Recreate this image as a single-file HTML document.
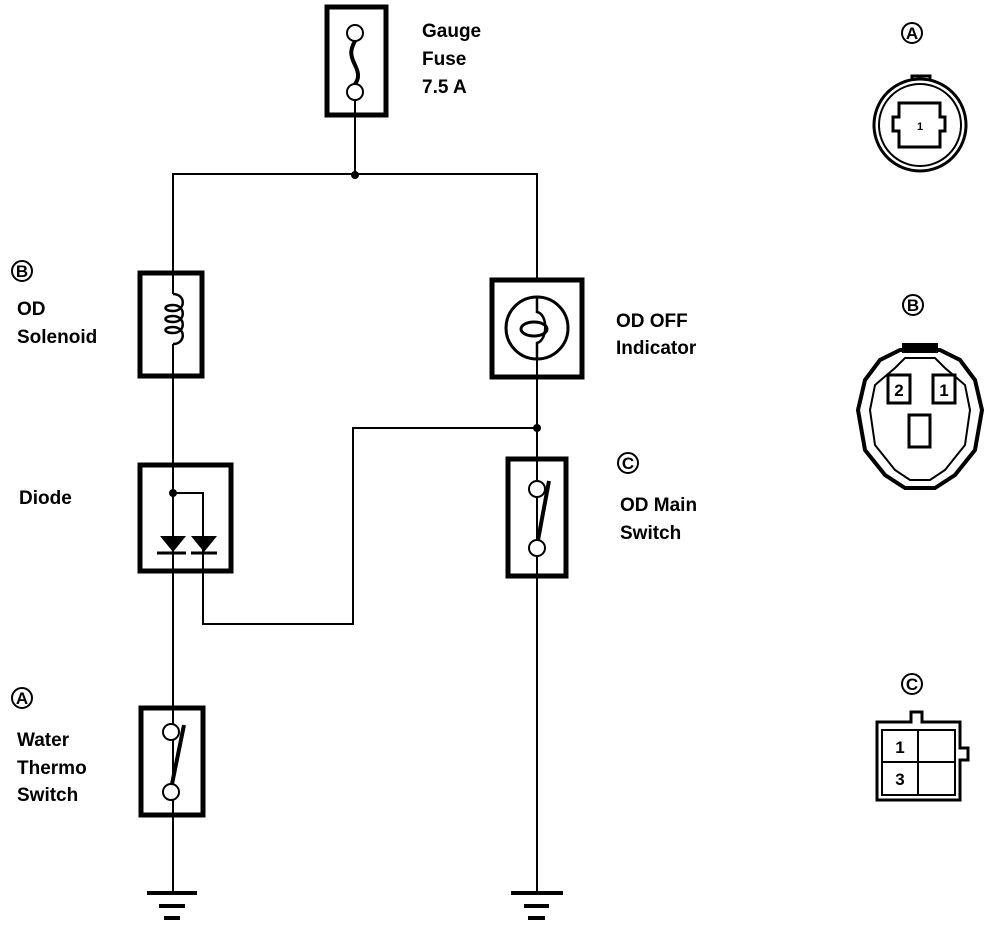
<!DOCTYPE html>
<html><head><meta charset="utf-8"><style>
html,body{margin:0;padding:0;background:#fff;}
svg{display:block;}
text{font-family:"Liberation Sans",sans-serif;font-size:19px;font-weight:bold;fill:#000;}
.c{font-size:17px;font-weight:bold;}
</style></head><body>
<svg width="992" height="928" viewBox="0 0 992 928" xmlns="http://www.w3.org/2000/svg">
<g fill="none" stroke="#000" stroke-width="2">
<rect x="327" y="7" width="59" height="108" stroke-width="5"/>
<circle cx="355" cy="33" r="8"/>
<circle cx="355" cy="92" r="8"/>
<path d="M355 41 C350 50,350 55,355 65 C360 75,358 80,355 84" stroke-width="4"/>
<line x1="355" y1="100" x2="355" y2="175"/>
<polyline points="173,272 173,174 537,174 537,278"/>
<circle cx="355" cy="175" r="3" fill="#000"/>
<rect x="140" y="273" width="62" height="103" stroke-width="5"/>
<line x1="173" y1="272" x2="173" y2="294"/>
<path d="M173 294 C186 294,186 311,173 311 C163 311,163 305,173 305 M173 305 C186 305,186 322,173 322 C163 322,163 316,173 316 M173 316 C186 316,186 333,173 333 C163 333,163 327,173 327 M173 327 C186 327,186 344,173 344" stroke-width="2.5"/>
<line x1="173" y1="344" x2="173" y2="892"/>
<rect x="492" y="280" width="90" height="97" stroke-width="5"/>
<circle cx="537" cy="328" r="31" stroke-width="3"/>
<ellipse cx="534" cy="329" rx="13" ry="7" stroke-width="3"/>
<path d="M537 297 L537 312 C548 314,548 340,537 343 L537 359" stroke-width="2.5"/>
<line x1="537" y1="359" x2="537" y2="892"/>
<circle cx="537" cy="428" r="3" fill="#000"/>
<polyline points="537,428 353,428 353,624 203,624 203,493 173,493"/>
<circle cx="173" cy="493" r="3" fill="#000"/>
<rect x="140" y="465" width="91" height="106" stroke-width="5"/>
<line x1="157" y1="553" x2="186" y2="553" stroke-width="3"/>
<line x1="191" y1="553" x2="217" y2="553" stroke-width="3"/>
<rect x="508" y="459" width="58" height="117" stroke-width="5"/>
<circle cx="537" cy="489" r="8" fill="#fff"/>
<circle cx="537" cy="548" r="8" fill="#fff"/>
<line x1="549" y1="481" x2="538" y2="540" stroke-width="4"/>
<rect x="141" y="708" width="62" height="107" stroke-width="5"/>
<circle cx="171" cy="732" r="8" fill="#fff"/>
<circle cx="171" cy="792" r="8" fill="#fff"/>
<line x1="184" y1="725" x2="172" y2="784" stroke-width="4"/>
<g stroke-width="4">
<line x1="147" y1="893" x2="197" y2="893"/><line x1="159" y1="906" x2="185" y2="906"/><line x1="164" y1="918" x2="180" y2="918"/>
<line x1="511" y1="893" x2="563" y2="893"/><line x1="524" y1="906" x2="549" y2="906"/><line x1="528" y1="918" x2="545" y2="918"/>
</g>
<circle cx="920" cy="125" r="46" stroke-width="3"/>
<circle cx="920" cy="125" r="41" stroke-width="2"/>
<path d="M912 81 L912 76 L930 76 L930 81" stroke-width="3"/>
<path d="M899 103 L940 103 L940 117 L945 117 L945 131 L940 131 L940 147 L899 147 L899 131 L893 131 L893 117 L899 117 Z" stroke-width="3"/>
<path d="M900 350 L940 350 L960 360 L975 380 L982 410 L975 450 L955 475 L935 488 L905 488 L885 475 L865 450 L858 410 L865 380 L880 360 Z" stroke-width="4"/>
<path d="M905 358 L935 358 L945 368 L965 385 L970 410 L965 445 L945 470 L930 480 L910 480 L895 470 L875 445 L870 410 L875 385 L895 368 Z" stroke-width="2"/>
<rect x="903" y="344" width="34" height="8" fill="#000"/>
<rect x="888" y="375" width="22" height="28" stroke-width="3"/>
<rect x="933" y="375" width="22" height="28" stroke-width="3"/>
<rect x="909" y="415" width="21" height="32" stroke-width="3"/>
<path d="M911 722 L911 712 L922 712 L922 722 L960 722 L960 748 L968 748 L968 760 L960 760 L960 800 L877 800 L877 722 Z" stroke-width="3"/>
<rect x="882" y="730" width="73" height="65" stroke-width="2"/>
<line x1="918" y1="730" x2="918" y2="795" stroke-width="2"/>
<line x1="882" y1="762" x2="955" y2="762" stroke-width="2"/>
<circle cx="22" cy="271" r="10"/>
<circle cx="22" cy="698" r="10"/>
<circle cx="628" cy="463" r="10"/>
<circle cx="912" cy="33" r="10"/>
<circle cx="913" cy="305" r="10"/>
<circle cx="912" cy="684" r="10"/>
</g>
<g fill="#000">
<polygon points="160,536 186,536 173,552"/>
<polygon points="191,536 217,536 204,552"/>
</g>
<text x="422" y="37">Gauge</text>
<text x="422" y="65">Fuse</text>
<text x="422" y="93">7.5 A</text>
<text x="17" y="315">OD</text>
<text x="17" y="343">Solenoid</text>
<text x="19" y="504">Diode</text>
<text x="616" y="327">OD OFF</text>
<text x="616" y="354">Indicator</text>
<text x="620" y="511">OD Main</text>
<text x="620" y="539">Switch</text>
<text x="17" y="746">Water</text>
<text x="17" y="774">Thermo</text>
<text x="17" y="801">Switch</text>
<g text-anchor="middle">
<text class="c" x="22" y="277">B</text>
<text class="c" x="22" y="704">A</text>
<text class="c" x="628" y="469">C</text>
<text class="c" x="912" y="39">A</text>
<text class="c" x="913" y="311">B</text>
<text class="c" x="912" y="690">C</text>
<text class="c" x="920" y="130" style="font-size:11px">1</text>
<text class="c" x="899" y="396">2</text>
<text class="c" x="944" y="396">1</text>
<text class="c" x="900" y="753">1</text>
<text class="c" x="900" y="785">3</text>
</g>
</svg>
</body></html>
